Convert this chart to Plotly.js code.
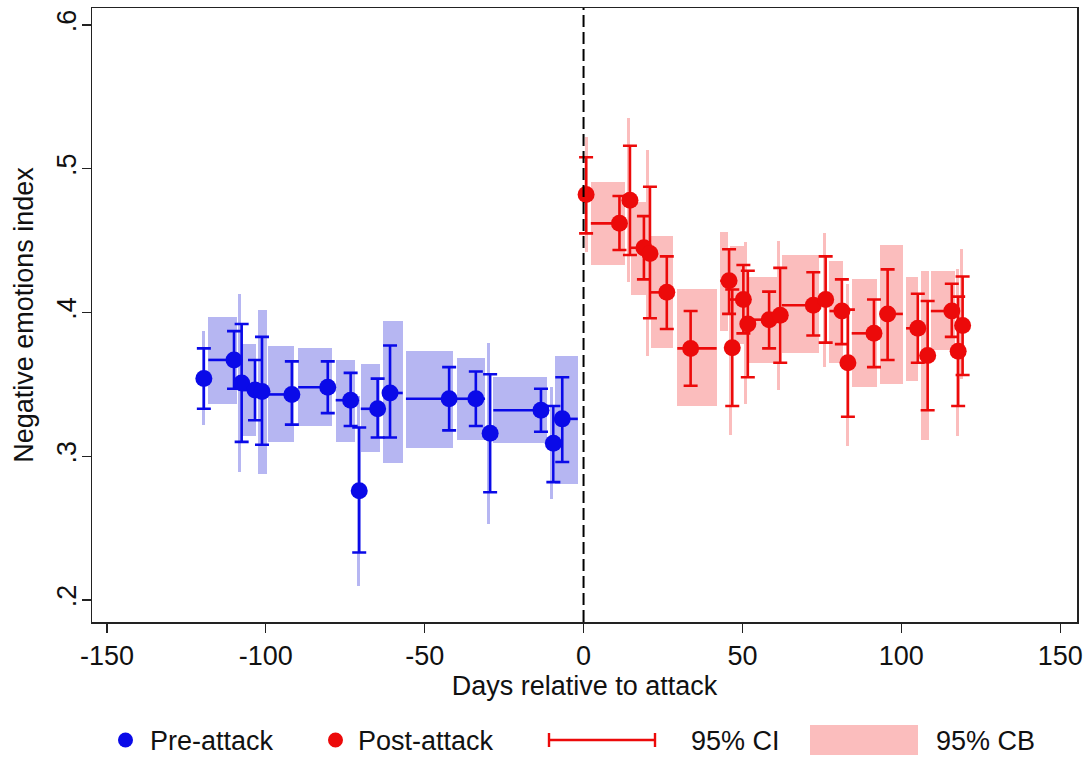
<!DOCTYPE html>
<html>
<head>
<meta charset="utf-8">
<script src="https://cdn.plot.ly/plotly-3.0.1.min.js"></script>
<style>html,body{margin:0;padding:0;background:#fff;}#chart{width:1091px;height:757px;}</style>
</head>
<body>
<div id="chart"></div>
<script>
// ---------- Pre-attack (blue) ----------
const preDay      = [-119.5, -110.0, -107.6, -103.4, -101.2, -91.8, -80.5, -73.3, -70.6, -64.8, -60.9, -42.3, -33.9, -29.4, -13.4, -9.5, -6.7];
const preValue    = [0.354, 0.367, 0.351, 0.346, 0.345, 0.343, 0.348, 0.339, 0.276, 0.333, 0.344, 0.340, 0.340, 0.316, 0.332, 0.309, 0.326];
const preCiLo     = [0.333, 0.347, 0.310, 0.325, 0.308, 0.322, 0.330, 0.321, 0.233, 0.313, 0.313, 0.318, 0.321, 0.275, 0.317, 0.282, 0.296];
const preCiHi     = [0.375, 0.387, 0.392, 0.367, 0.383, 0.366, 0.366, 0.358, 0.320, 0.354, 0.377, 0.362, 0.359, 0.357, 0.347, 0.335, 0.355];
const preBinStart = [-119.5, -118.1, -108.3, -107.6, -102.5, -99.3, -89.8, -78.0, -70.9, -70.1, -63.2, -55.9, -39.9, -30.0, -28.4, -10.0, -9.0];
const preBinEnd   = [-119.5, -109.2, -108.3, -103.1, -99.7, -91.1, -79.1, -71.9, -70.9, -64.1, -56.9, -41.2, -31.0, -30.0, -11.6, -10.0, -1.8];
const preCbLo     = [0.322, 0.336, 0.289, 0.314, 0.288, 0.310, 0.321, 0.310, 0.210, 0.303, 0.295, 0.306, 0.311, 0.253, 0.309, 0.270, 0.281];
const preCbHi     = [0.387, 0.397, 0.413, 0.378, 0.402, 0.377, 0.375, 0.367, 0.342, 0.364, 0.394, 0.373, 0.368, 0.379, 0.355, 0.348, 0.370];

// ---------- Post-attack (red) ----------
const postDay      = [0.8, 11.3, 14.6, 19.0, 20.9, 26.2, 33.7, 45.8, 46.8, 50.3, 51.7, 58.4, 61.9, 72.3, 76.2, 81.3, 83.2, 91.4, 95.7, 105.2, 108.3, 115.9, 117.9, 119.3];
const postValue    = [0.482, 0.462, 0.478, 0.445, 0.441, 0.414, 0.375, 0.422, 0.3755, 0.409, 0.392, 0.395, 0.398, 0.405, 0.409, 0.401, 0.365, 0.3855, 0.399, 0.389, 0.370, 0.401, 0.373, 0.391];
const postCiLo     = [0.455, 0.4435, 0.440, 0.423, 0.396, 0.3885, 0.349, 0.399, 0.335, 0.3855, 0.355, 0.375, 0.365, 0.384, 0.379, 0.378, 0.3275, 0.362, 0.367, 0.365, 0.332, 0.383, 0.335, 0.3565];
const postCiHi     = [0.508, 0.481, 0.516, 0.467, 0.4875, 0.439, 0.401, 0.444, 0.416, 0.433, 0.429, 0.4145, 0.431, 0.428, 0.439, 0.423, 0.402, 0.409, 0.430, 0.413, 0.408, 0.420, 0.411, 0.425];
const postBinStart = [1.0, 2.3, 14.1, 14.9, 20.2, 21.2, 29.5, 43.0, 46.3, 46.0, 51.1, 51.9, 61.3, 62.4, 75.7, 77.4, 83.0, 84.4, 93.2, 101.5, 106.1, 109.3, 117.6, 119.0];
const postBinEnd   = [1.0, 13.1, 14.1, 19.7, 20.2, 28.3, 41.9, 45.6, 46.3, 51.0, 51.1, 60.8, 61.3, 74.2, 75.7, 81.8, 83.0, 92.3, 100.5, 105.4, 108.8, 116.9, 117.6, 119.0];
const postCbLo     = [0.442, 0.433, 0.421, 0.412, 0.370, 0.375, 0.335, 0.387, 0.315, 0.378, 0.336, 0.365, 0.346, 0.372, 0.362, 0.365, 0.307, 0.348, 0.350, 0.352, 0.311, 0.374, 0.314, 0.354];
const postCbHi     = [0.522, 0.491, 0.535, 0.477, 0.513, 0.453, 0.416, 0.456, 0.436, 0.446, 0.449, 0.425, 0.450, 0.440, 0.455, 0.436, 0.420, 0.423, 0.447, 0.425, 0.429, 0.429, 0.430, 0.444];

// ---------- Axis ticks ----------
const xTicks = [-150, -100, -50, 0, 50, 100, 150];
const xTickText = ['-150', '-100', '-50', '0', '50', '100', '150'];
const yTicks = [0.2, 0.3, 0.4, 0.5, 0.6];
const yTickText = ['.2', '.3', '.4', '.5', '.6'];

const legendLabels = ['Pre-attack', 'Post-attack', '95% CI', '95% CB'];

const BLUE = '#0a0ae8', RED = '#ec0a0a';
const BLUE_BOX = '#b6b6f2', RED_BOX = '#fbbdbd';
const FONT = 'Liberation Sans, Arial, sans-serif';
const FS = 27;

function cbTrace(st, en, lo, hi, color) {
  const x = [], w = [], base = [], h = [];
  for (let i = 0; i < st.length; i++) {
    x.push((st[i] + en[i]) / 2);
    w.push(Math.max(en[i] - st[i], 0.9));
    base.push(lo[i]);
    h.push(hi[i] - lo[i]);
  }
  return {type: 'bar', x: x, y: h, base: base, width: w,
    marker: {color: color, line: {width: 0}}, showlegend: false, hoverinfo: 'skip'};
}
function binLines(st, en, val, color) {
  const x = [], y = [];
  for (let i = 0; i < st.length; i++) {
    if (en[i] - st[i] > 0.5) { x.push(st[i], en[i], null); y.push(val[i], val[i], null); }
  }
  return {type: 'scatter', mode: 'lines', x: x, y: y,
    line: {color: color, width: 2.6}, showlegend: false, hoverinfo: 'skip'};
}
function pointTrace(day, val, lo, hi, color) {
  return {type: 'scatter', mode: 'markers', x: day, y: val,
    marker: {color: color, size: 17, line: {width: 0}},
    error_y: {type: 'data', symmetric: false,
      array: hi.map((h, i) => h - val[i]), arrayminus: lo.map((l, i) => val[i] - l),
      color: color, thickness: 2.6, width: 7},
    showlegend: false};
}

const data = [
  cbTrace(preBinStart, preBinEnd, preCbLo, preCbHi, BLUE_BOX),
  cbTrace(postBinStart, postBinEnd, postCbLo, postCbHi, RED_BOX),
  binLines(preBinStart, preBinEnd, preValue, BLUE),
  binLines(postBinStart, postBinEnd, postValue, RED),
  pointTrace(preDay, preValue, preCiLo, preCiHi, BLUE),
  pointTrace(postDay, postValue, postCiLo, postCiHi, RED)
];

// plot area in pixels: left 92, right 1077, top 8, bottom 622
const L = 92, R = 1077, T = 8, B = 622;
const px = v => (v - L) / (R - L);
const py = v => (B - v) / (B - T);
const legY = 740;

const shapes = [
  {type: 'line', xref: 'x', yref: 'paper', x0: 0, x1: 0, y0: 0, y1: 1,
   line: {color: '#000', width: 2, dash: '12px,5px'}, layer: 'above'},
  // legend symbols
  {type: 'circle', xref: 'paper', yref: 'paper', x0: px(118), x1: px(133), y0: py(legY + 7.5), y1: py(legY - 7.5),
   fillcolor: BLUE, line: {width: 0}},
  {type: 'circle', xref: 'paper', yref: 'paper', x0: px(328), x1: px(343), y0: py(legY + 7.5), y1: py(legY - 7.5),
   fillcolor: RED, line: {width: 0}},
  {type: 'line', xref: 'paper', yref: 'paper', x0: px(549), x1: px(655), y0: py(legY), y1: py(legY),
   line: {color: RED, width: 2.4}},
  {type: 'line', xref: 'paper', yref: 'paper', x0: px(549), x1: px(549), y0: py(legY - 7), y1: py(legY + 7),
   line: {color: RED, width: 2.4}},
  {type: 'line', xref: 'paper', yref: 'paper', x0: px(655), x1: px(655), y0: py(legY - 7), y1: py(legY + 7),
   line: {color: RED, width: 2.4}},
  {type: 'rect', xref: 'paper', yref: 'paper', x0: px(810), x1: px(918), y0: py(755), y1: py(725),
   fillcolor: RED_BOX, line: {width: 0}}
];

const annFont = {family: FONT, size: FS, color: '#111'};
const annotations = [
  {text: legendLabels[0], x: px(148), xanchor: 'left'},
  {text: legendLabels[1], x: px(356), xanchor: 'left'},
  {text: legendLabels[2], x: px(689), xanchor: 'left'},
  {text: legendLabels[3], x: px(934), xanchor: 'left'}
].map(a => Object.assign(a, {xref: 'paper', yref: 'paper', y: py(legY + 1), yanchor: 'middle',
  showarrow: false, font: annFont}));

const layout = {
  width: 1091, height: 757,
  margin: {l: L, r: 1091 - R, t: T, b: 757 - B},
  paper_bgcolor: '#fff', plot_bgcolor: '#fff',
  font: {family: FONT, size: FS, color: '#111'},
  barmode: 'overlay', bargap: 0,
  showlegend: false,
  xaxis: {range: [-154.7, 155.3], tickvals: xTicks, ticktext: xTickText,
    showgrid: false, zeroline: false, showline: true, mirror: true, linecolor: '#222', linewidth: 1.5,
    ticks: 'outside', ticklen: 9, tickwidth: 1.3, tickcolor: '#222',
    tickfont: {family: FONT, size: FS, color: '#111'},
    title: {text: 'Days relative to attack', font: {family: FONT, size: FS, color: '#111'}, standoff: 0}},
  yaxis: {range: [0.1847, 0.6118], tickvals: yTicks, ticktext: yTickText, tickangle: -90,
    ticklabelstandoff: -5,
    showgrid: false, zeroline: false, showline: true, mirror: true, linecolor: '#222', linewidth: 1.5,
    ticks: 'outside', ticklen: 9, tickwidth: 1.3, tickcolor: '#222',
    tickfont: {family: FONT, size: FS, color: '#111'},
    title: {text: 'Negative emotions index', font: {family: FONT, size: FS, color: '#111'}, standoff: 10}},
  shapes: shapes,
  annotations: annotations
};

Plotly.newPlot('chart', data, layout, {displayModeBar: false, staticPlot: true});
</script>
</body>
</html>
